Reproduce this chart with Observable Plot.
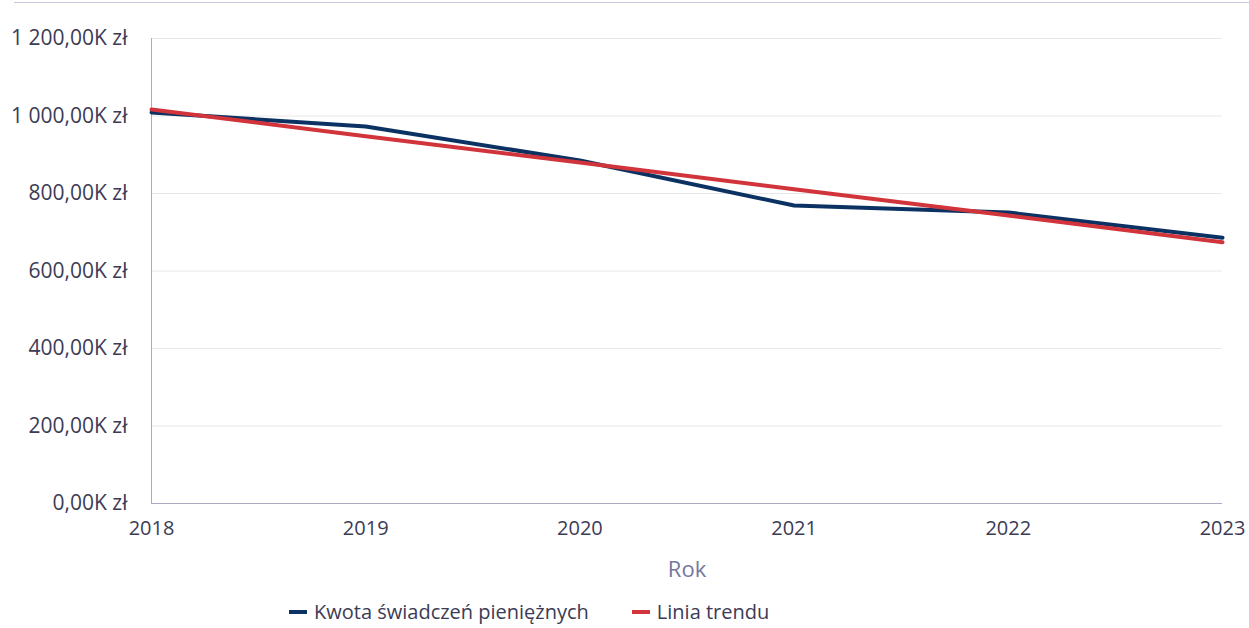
<!DOCTYPE html>
<html><head><meta charset="utf-8">
<script src="https://cdn.jsdelivr.net/npm/d3@7"></script>
<script src="https://cdn.jsdelivr.net/npm/@observablehq/plot@0.6"></script>
<style>
body{margin:0;background:#fff;font-family:"Open Sans",sans-serif;}
#wrap{position:relative;width:1249px;height:628px;overflow:hidden;}
#topline{position:absolute;left:14px;right:0;top:2px;border-top:1px solid #c9c9dc;}
#chart{position:absolute;left:0;top:0;}
#legend{position:absolute;left:289px;top:598px;display:flex;align-items:center;font-size:20px;color:#3b3b55;}
.sw{display:inline-block;width:18px;height:4px;margin-right:7px;}
.item{display:flex;align-items:center;margin-right:43px;}
</style></head>
<body><div id="wrap"><div id="topline"></div><div id="chart"></div>
<div id="legend"></div></div>
<script>
const years = [2018, 2019, 2020, 2021, 2022, 2023];
const amounts = [1009, 973, 885, 769, 751, 686];   // K zł
const trend = [1017, 948, 880, 811, 743, 674];     // K zł
const yTicks = [0, 200, 400, 600, 800, 1000, 1200];
const seriesNames = ["Kwota świadczeń pieniężnych", "Linia trendu"];
const colors = ["#0b3262", "#d1343a"];

const loc = d3.formatLocale({decimal: ",", thousands: " ", grouping: [3], currency: ["", ""]});
const fmt = loc.format(",.2f");

const data = years.flatMap((y, i) => [
  {year: y, value: amounts[i], s: seriesNames[0]},
  {year: y, value: trend[i], s: seriesNames[1]}
]);

const chart = Plot.plot({
  width: 1249, height: 590,
  marginLeft: 151, marginRight: 27, marginTop: 38, marginBottom: 87,
  style: {fontFamily: "Open Sans, sans-serif", fontSize: "20px", color: "#3b3b55", background: "transparent"},
  x: {domain: [2018, 2023]},
  y: {domain: [0, 1200]},
  color: {domain: seriesNames, range: colors},
  marks: [
    Plot.gridY(yTicks.filter(d => d > 0), {stroke: "#e8e8e8", strokeOpacity: 1}),
    Plot.ruleX([2018], {stroke: "#a9a9bf"}),
    Plot.ruleY([0], {stroke: "#a9a9bf"}),
    Plot.axisY(yTicks, {tickSize: 0, tickPadding: 24, tickFormat: d => fmt(d) + "K zł", label: null, fill: "#3b3b55", fontSize: 21}),
    Plot.axisX(years, {tickSize: 0, tickPadding: 17, tickFormat: d => String(d), label: null, fill: "#3b3b55", fontSize: 20}),
    Plot.text(["Rok"], {frameAnchor: "bottom", lineAnchor: "middle", dy: 66, text: d => d, fill: "#7676a0", fontSize: 22}),
    Plot.line(data.filter(d => d.s === seriesNames[0]), {x: "year", y: "value", stroke: "s", strokeWidth: 4, strokeLinejoin: "miter"}),
    Plot.line(data.filter(d => d.s === seriesNames[1]), {x: "year", y: "value", stroke: "s", strokeWidth: 4})
  ]
});
document.getElementById("chart").appendChild(chart);

const lg = document.getElementById("legend");
seriesNames.forEach((n, i) => {
  const it = document.createElement("div");
  it.className = "item";
  it.innerHTML = `<span class="sw" style="background:${colors[i]}"></span><span>${n}</span>`;
  lg.appendChild(it);
});
</script></body></html>
